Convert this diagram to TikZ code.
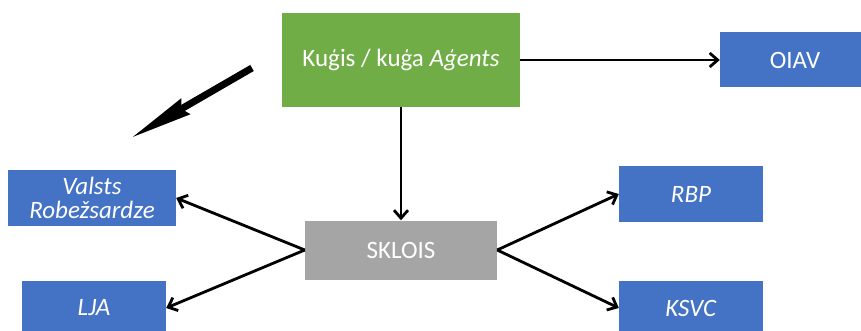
\documentclass[tikz,border=0pt]{standalone}
\usepackage{fontspec}
\setmainfont{Carlito}
\usetikzlibrary{arrows.meta}
\definecolor{agentgreen}{HTML}{70AD47}
\definecolor{orgblue}{HTML}{4472C4}
\definecolor{hubgray}{HTML}{A5A5A5}
\tikzset{
	box/.style   = {draw=none, text=white, inner sep=0pt, align=center, font=\fontsize{25}{27}\selectfont},
	bluebox/.style = {box, fill=orgblue, minimum width=144pt, minimum height=55pt},
	link/.style  = {line width=2.8pt, -{Straight Barb[length=8pt, width=14pt]}}
}
\begin{document}
\begin{tikzpicture}[x=1pt, y=-1pt]
	\clip (0,0) rectangle (861,331);
	\fill[white] (0,0) rectangle (861,331);
	% boxes
	\node [box, fill=agentgreen, minimum width=238pt, minimum height=94pt] (agent) at (401,60)  {Kuģis / kuģa \textit{Aģents}};
	\node [box, fill=hubgray, minimum width=192pt, minimum height=59pt]    (sklois) at (401,250) {SKLOIS};
	\node [bluebox, minimum width=150pt]  (oiav)   at (795,60)  {OIAV};
	\node [bluebox, minimum width=168pt]  (valsts) at (92,198)  {\textit{Valsts}\\[-3pt]\textit{Robežsardze}};
	\node [bluebox]                       (lja)    at (94,308)  {\textit{LJA}};
	\node [bluebox]                       (rbp)    at (691,194) {\textit{RBP}};
	\node [bluebox]                       (ksvc)   at (691,308) {\textit{KSVC}};
	% connectors
	\draw [link] (agent.south) -- (sklois.north);
	\draw [link] (agent.east)  -- (oiav.west);
	\draw [link] (sklois.west) -- (valsts.east);
	\draw [link] (sklois.west) -- (lja.east);
	\draw [link] (sklois.east) -- (rbp.west);
	\draw [link] (sklois.east) -- (ksvc.west);
	% big pointer
	\coordinate (tail) at (252,68);
	\coordinate (tip)  at (131,138);
	\draw [line width=7pt, -{Stealth[length=62pt, width=17pt, inset=4pt]}] (tail) -- (tip);
\end{tikzpicture}
\end{document}
